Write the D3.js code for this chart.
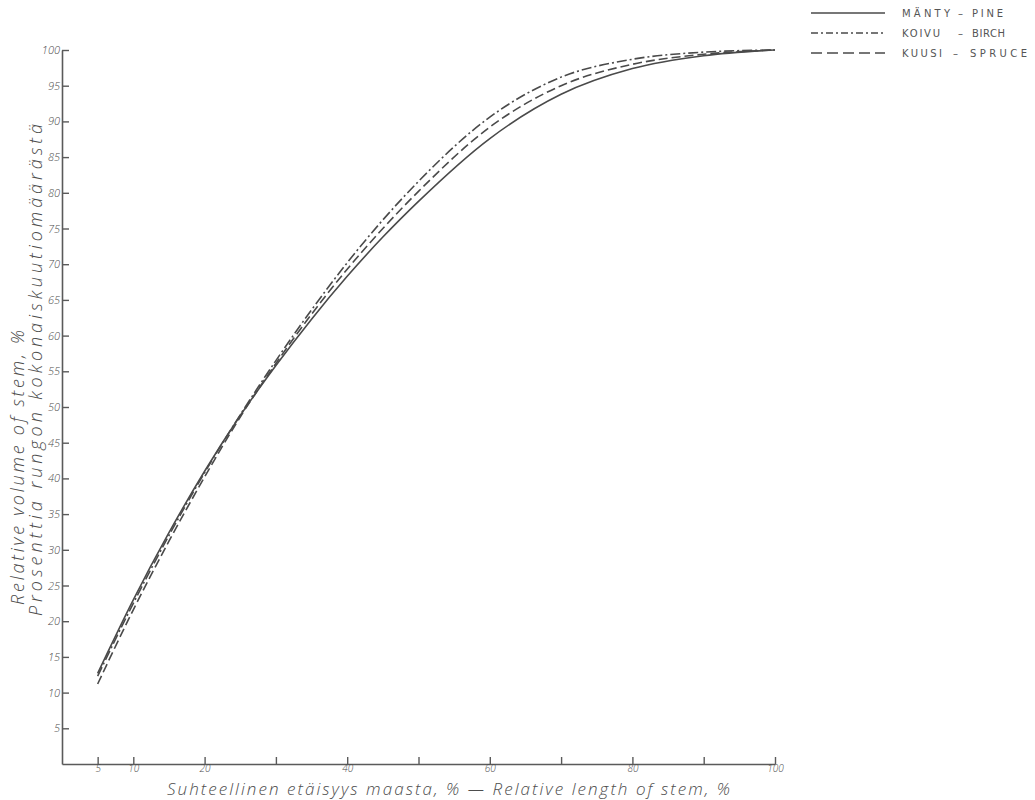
<!DOCTYPE html>
<html>
<head>
<meta charset="utf-8">
<script src="https://cdn.jsdelivr.net/npm/d3@7"></script>
<style>
  html, body { margin: 0; padding: 0; background: #ffffff; }
  svg { display: block; }
  .lbl { font-family: "Open Sans", "DejaVu Sans", sans-serif; font-style: italic; font-weight: 300; fill: #4d4d4d; }
  .leg { font-family: "DejaVu Sans", "Open Sans", sans-serif; font-weight: 400; fill: #555; }
</style>
</head>
<body>
<svg id="chart" width="1035" height="800"></svg>
<script>
// Relative stem length (% of height measured from the ground)
const stemLength = [5, 10, 15, 20, 25, 30, 35, 40, 45, 50, 60, 70, 80, 90, 100];

// Cumulative share of total stem volume (%) at each relative length
const pineVolume   = [12.7, 23.0, 32.4, 41.0, 48.8, 55.8, 62.3, 68.3, 73.8, 78.8, 87.6, 93.8, 97.4, 99.2, 100];
const birchVolume  = [12.3, 22.5, 32.0, 40.8, 48.9, 56.5, 63.6, 70.2, 76.2, 81.6, 90.6, 96.2, 98.7, 99.7, 100];
const spruceVolume = [11.2, 21.6, 31.2, 40.2, 48.6, 56.1, 63.0, 69.3, 75.0, 80.2, 89.2, 95.0, 98.0, 99.4, 100];

// Axis ticks
const xTicks = [5, 10, 20, 30, 40, 50, 60, 70, 80, 90, 100];
const xTickLabels = ["5", "10", "20", "", "40", "", "60", "", "80", "", "100"];
const yTicks = [5, 10, 15, 20, 25, 30, 35, 40, 45, 50, 55, 60, 65, 70, 75, 80, 85, 90, 95, 100];

// Legend entries
const seriesNames = ["MÄNTY", "KOIVU", "KUUSI"];
const seriesNamesEn = ["PINE", "BIRCH", "SPRUCE"];

const ink = "#4a4a4a";
const series = [
  { fi: seriesNames[0], en: seriesNamesEn[0], values: pineVolume,   dash: null },
  { fi: seriesNames[1], en: seriesNamesEn[1], values: birchVolume,  dash: "10,3,2,3" },
  { fi: seriesNames[2], en: seriesNamesEn[2], values: spruceVolume, dash: "9,4" }
];

const svg = d3.select("#chart");

const x = d3.scaleLinear().domain([0, 100]).range([62, 775]);
const y = d3.scaleLinear().domain([0, 100]).range([764, 50]);

// Y axis: ticks point into the plot
const yAxis = svg.append("g")
  .attr("transform", `translate(${x(0)},0)`)
  .call(d3.axisLeft(y).tickValues(yTicks).tickSizeInner(-7).tickSizeOuter(0).tickPadding(2));

// X axis: ticks point up
const xAxis = svg.append("g")
  .attr("transform", `translate(0,${y(0)})`)
  .call(d3.axisBottom(x).tickValues(xTicks).tickSizeInner(-7).tickSizeOuter(0).tickPadding(1)
    .tickFormat((d, i) => xTickLabels[i]));

[xAxis, yAxis].forEach(g => {
  g.select(".domain").attr("stroke", "#5a5a5a").attr("stroke-width", 1.6);
  g.selectAll(".tick line").attr("stroke", "#5a5a5a").attr("stroke-width", 1.4);
  g.selectAll(".tick text")
    .attr("class", "lbl")
    .attr("font-size", 11)
    .style("font-family", "'Open Sans', 'DejaVu Sans', sans-serif")
    .style("font-style", "italic")
    .style("fill", "#4d4d4d");
});
xAxis.selectAll(".tick text").attr("font-size", 10);

// Volume curves
const line = d3.line()
  .x(d => x(d[0]))
  .y(d => y(d[1]))
  .curve(d3.curveMonotoneX);

series.forEach(s => {
  svg.append("path")
    .datum(stemLength.map((L, i) => [L, s.values[i]]))
    .attr("d", line)
    .attr("fill", "none")
    .attr("stroke", ink)
    .attr("stroke-width", 1.6)
    .attr("stroke-dasharray", s.dash);
});

// Axis titles
svg.append("text")
  .attr("class", "lbl")
  .attr("transform", "translate(24,605) rotate(-90)")
  .attr("font-size", 18)
  .attr("textLength", 275)
  .attr("lengthAdjust", "spacing")
  .text("Relative volume of stem, %");

svg.append("text")
  .attr("class", "lbl")
  .attr("transform", "translate(42,616) rotate(-90)")
  .attr("font-size", 18)
  .attr("textLength", 492)
  .attr("lengthAdjust", "spacing")
  .text("Prosenttia rungon kokonaiskuutiomäärästä");

svg.append("text")
  .attr("class", "lbl")
  .attr("x", 167)
  .attr("y", 795)
  .attr("font-size", 17)
  .attr("textLength", 563)
  .attr("lengthAdjust", "spacing")
  .text("Suhteellinen etäisyys maasta, % — Relative length of stem, %");

// Legend
const legend = svg.append("g");
series.forEach((s, i) => {
  const ly = 13 + i * 20;
  legend.append("line")
    .attr("x1", 811).attr("x2", 885)
    .attr("y1", ly).attr("y2", ly)
    .attr("stroke", ink)
    .attr("stroke-width", 1.5)
    .attr("stroke-dasharray", i === 1 ? "7,3,2,3" : (i === 2 ? "11,5" : null));
  legend.append("text").attr("class", "leg")
    .attr("x", 902).attr("y", ly + 4)
    .attr("font-size", 10)
    .attr("textLength", [48, 38, 40][i])
    .attr("lengthAdjust", "spacing")
    .text(s.fi);
  legend.append("text").attr("class", "leg")
    .attr("x", i === 2 ? 953 : 958).attr("y", ly + 4)
    .attr("font-size", 10)
    .text("–");
  legend.append("text").attr("class", "leg")
    .attr("x", i === 2 ? 970 : 972).attr("y", ly + 4)
    .attr("font-size", 10)
    .attr("textLength", [31, 33, 57][i])
    .attr("lengthAdjust", "spacing")
    .text(s.en);
});
</script>
</body>
</html>
